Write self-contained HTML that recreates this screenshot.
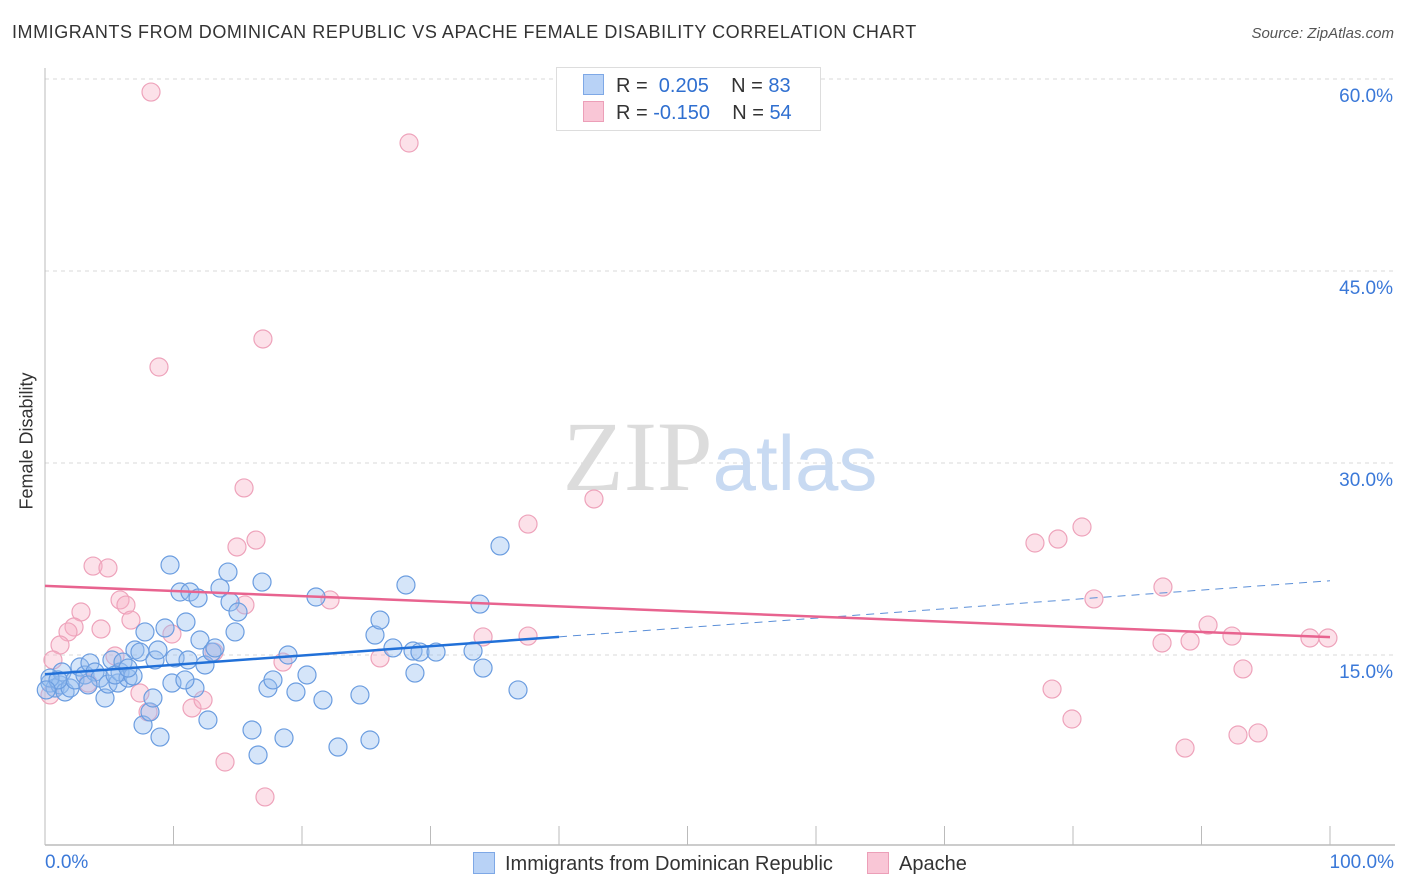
<!DOCTYPE html>
<html><head><meta charset="utf-8"><style>
body{margin:0;background:#fff;font-family:"Liberation Sans",sans-serif;}
#wrap{position:relative;width:1406px;height:892px;overflow:hidden;}
.t{position:absolute;white-space:nowrap;}
</style></head><body>
<div id="wrap">
<div class="t" style="left:12px;top:22px;font-size:18px;letter-spacing:0.55px;color:#333;">IMMIGRANTS FROM DOMINICAN REPUBLIC VS APACHE FEMALE DISABILITY CORRELATION CHART</div>
<div class="t" style="right:12px;top:25px;font-size:15px;color:#555;font-style:italic;">Source: ZipAtlas.com</div>
<svg id="chart" width="1406" height="892" style="position:absolute;left:0;top:0"></svg>
</div>
<script>
const xTicks=[0,10,20,30,40,50,60,70,80,90,100];
const yTicks=[15,30,45,60];
const yTickLabels=["15.0%","30.0%","45.0%","60.0%"];
const blueX=[0.39,0.78,1.17,1.56,1.95,1.32,2.33,2.72,3.11,3.5,3.89,4.28,4.67,4.9,5.21,5.68,5.84,6.07,6.46,6.85,7.0,7.39,7.63,7.78,8.17,8.4,8.56,8.79,8.95,9.34,9.73,9.88,10.12,10.51,10.97,11.13,11.28,11.67,11.91,12.06,12.45,12.68,13.0,13.23,13.62,14.24,14.4,14.79,15.02,16.11,16.58,16.89,17.35,17.74,18.6,18.91,19.53,20.39,21.09,21.63,22.8,24.51,25.29,25.68,26.07,27.08,28.09,28.64,29.18,28.79,30.43,33.31,33.85,34.09,35.41,36.81,0.39,1.01,0.1,3.35,5.45,6.46,10.89];
const blueY=[12.81,12.42,12.66,12.11,12.42,13.67,13.05,14.06,13.44,14.38,13.67,13.2,11.64,12.73,14.61,12.81,13.67,14.45,13.2,13.36,15.39,15.23,9.53,16.8,10.55,11.64,14.61,15.39,8.59,17.11,22.03,12.81,14.77,19.92,17.58,14.61,19.92,12.42,19.45,16.17,14.22,9.92,15.23,15.55,20.23,21.48,19.14,16.8,18.36,9.14,7.19,20.7,12.42,13.05,8.52,15.0,12.11,13.44,19.53,11.48,7.81,11.88,8.36,16.56,17.73,15.55,20.47,15.31,15.23,13.59,15.23,15.31,18.98,13.98,23.52,12.27,13.2,13.05,12.27,12.66,13.44,13.98,13.05];
const pinkX=[8.25,28.33,16.96,8.87,15.49,42.72,37.59,16.42,14.94,3.74,4.9,5.84,2.8,6.3,2.26,1.79,1.17,4.36,6.69,9.88,15.56,22.18,0.62,5.45,7.39,8.02,11.44,12.3,14.01,17.12,18.52,26.07,34.09,37.59,13.15,3.35,0.39,77.04,78.83,80.7,81.63,87.0,78.37,79.92,86.93,89.11,90.51,92.37,93.23,88.72,92.84,94.4,98.44,99.84];
const pinkY=[58.98,55.0,39.69,37.5,28.05,27.19,25.23,23.98,23.44,21.95,21.8,19.3,18.36,18.9,17.19,16.8,15.78,17.03,17.73,16.64,18.91,19.3,14.61,14.92,12.03,10.55,10.86,11.48,6.64,3.91,14.45,14.77,16.41,16.48,15.23,12.81,11.88,23.75,24.06,25.0,19.38,20.31,12.34,10.0,15.94,16.09,17.34,16.48,13.91,7.73,8.75,8.91,16.33,16.33];
const blueTrend=[13.5,20.8];
const blueSolidEnd=40;
const pinkTrend=[20.4,16.4];

const NS="http://www.w3.org/2000/svg";
const svg=document.getElementById('chart');
const X=v=>45+v*12.85;
const Y=v=>847-v*12.8;
function mk(tag,attrs,parent){const e=document.createElementNS(NS,tag);for(const k in attrs)e.setAttribute(k,attrs[k]);(parent||svg).appendChild(e);return e;}

yTicks.forEach((t,i)=>{
  const g=mk('line',{x1:45,x2:1395,y1:Y(t),y2:Y(t),stroke:'#d8d8d8','stroke-dasharray':'4,4','stroke-width':1});
  
  
  const tx=mk('text',{x:1393,y:Y(t)+23,'text-anchor':'end','font-size':19,fill:'#3a78d8','font-family':'Liberation Sans, sans-serif'});
  tx.textContent=yTickLabels[i];
  
  
});
const ax=mk('line',{x1:45,x2:1395,y1:845,y2:845,stroke:'#bbb','stroke-width':1.5});


const ay=mk('line',{x1:45,x2:45,y1:68,y2:845,stroke:'#bbb','stroke-width':1});


xTicks.forEach(t=>{
  const l=mk('line',{x1:X(t),x2:X(t),y1:826,y2:845,stroke:'#bbb','stroke-width':1});
  
  
});
const wm=mk('text',{x:720,y:490,'text-anchor':'middle','font-size':100,'font-family':'Liberation Serif, serif'});
wm.innerHTML='<tspan fill="#dcdcdc">ZIP</tspan><tspan fill="#c8daf2" font-family="Liberation Sans, sans-serif" font-size="78">atlas</tspan>';



pinkX.forEach((x,i)=>{
  const c=mk('circle',{cx:X(x),cy:Y(pinkY[i]),r:9,fill:'rgba(246,175,198,0.38)',stroke:'#eea3bb','stroke-width':1.2});
  
  
});
blueX.forEach((x,i)=>{
  const c=mk('circle',{cx:X(x),cy:Y(blueY[i]),r:9,fill:'rgba(150,190,240,0.4)',stroke:'#6b9de0','stroke-width':1.2});
  
  
});
const bAt=x=>blueTrend[0]+(blueTrend[1]-blueTrend[0])*x/100;
const pAt=x=>pinkTrend[0]+(pinkTrend[1]-pinkTrend[0])*x/100;
const bd=mk('line',{x1:X(blueSolidEnd),y1:Y(bAt(blueSolidEnd)),x2:X(100),y2:Y(bAt(100)),stroke:'#5b8fd8','stroke-width':1,'stroke-dasharray':'8,6'});


const bs=mk('line',{x1:X(0),y1:Y(bAt(0)),x2:X(blueSolidEnd),y2:Y(bAt(blueSolidEnd)),stroke:'#2170d8','stroke-width':2.5});


const ps=mk('line',{x1:X(0),y1:Y(pAt(0)),x2:X(100),y2:Y(pAt(100)),stroke:'#e8638f','stroke-width':2.5});


</script>
<div class="t" style="left:-28px;top:444px;font-size:18px;color:#333;transform:rotate(-90deg);transform-origin:center;width:110px;text-align:center;">Female Disability</div>
<div class="t" style="left:45px;top:852px;font-size:19px;color:#3a78d8;">0.0%</div>
<div class="t" style="right:12px;top:852px;font-size:19px;color:#3a78d8;">100.0%</div>
<div class="t" style="left:473px;top:852px;font-size:20px;color:#333;"><span style="display:inline-block;width:20px;height:20px;background:#b8d2f6;border:1.5px solid #7ea8e6;vertical-align:-4px;margin-right:10px;"></span>Immigrants from Dominican Republic</div>
<div class="t" style="left:867px;top:852px;font-size:20px;color:#333;"><span style="display:inline-block;width:20px;height:20px;background:#f9c6d6;border:1.5px solid #ec9fb8;vertical-align:-4px;margin-right:10px;"></span>Apache</div>
<div style="position:absolute;left:556px;top:67px;width:263px;height:62px;border:1px solid #ddd;background:#fff;font-size:20px;color:#333;">
 <div class="t" style="left:26px;top:6px;"><span style="display:inline-block;width:19px;height:19px;background:#b8d2f6;border:1.5px solid #7ea8e6;vertical-align:-3px;margin-right:12px;"></span>R = &nbsp;<span style="color:#2f6fd0">0.205</span>&nbsp;&nbsp;&nbsp; N = <span style="color:#2f6fd0">83</span></div>
 <div class="t" style="left:26px;top:33px;"><span style="display:inline-block;width:19px;height:19px;background:#f9c6d6;border:1.5px solid #ec9fb8;vertical-align:-3px;margin-right:12px;"></span>R = <span style="color:#2f6fd0">-0.150</span>&nbsp;&nbsp;&nbsp; N = <span style="color:#2f6fd0">54</span></div>
</div>
</body></html>
